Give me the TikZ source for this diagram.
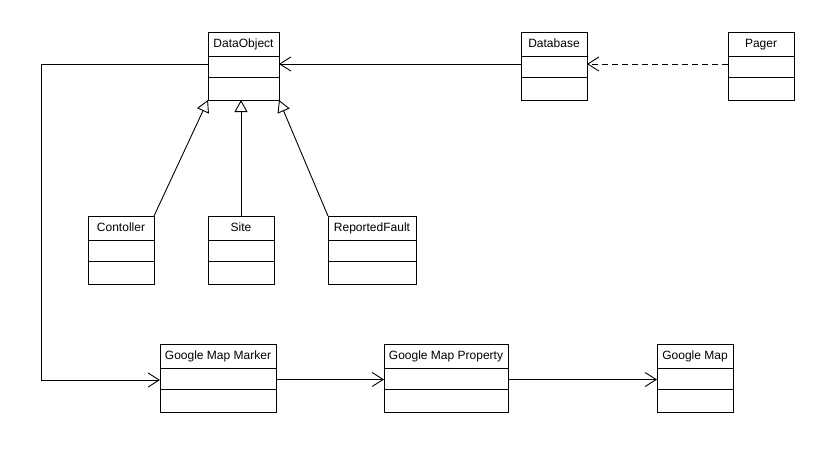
\documentclass[tikz,border=0pt]{standalone}
\usepackage{fontspec}
\setmainfont{Liberation Sans}
\usetikzlibrary{positioning,arrows.meta,shadows}

% one class box: name, left, top, width, title
\newcommand{\umlclass}[5]{%
    \node[classtitle, minimum width=#4] (#1) at (#2,#3) {#5};
    \node[classattr, minimum width=#4, below=0pt of #1] (#1-attr) {};
    \node[classop, minimum width=#4, below=0pt of #1-attr] (#1-op) {};
}

\begin{document}
\begin{tikzpicture}[x=1pt, y=-1pt,
                    line width=0.9pt,
                    font=\fontsize{12}{14}\selectfont,
                    ]
    \tikzstyle{classbox}=[draw, fill=white, outer sep=0pt, inner sep=0pt,
        drop shadow={shadow xshift=1pt, shadow yshift=-1pt, fill=gray!55, opacity=1}]
    \tikzstyle{classtitle}=[classbox, anchor=north west, minimum height=24pt, text height=9pt, text depth=3pt]
    \tikzstyle{classattr}=[classbox, minimum height=21pt]
    \tikzstyle{classop}=[classbox, minimum height=23pt]
    \tikzstyle{assoc}=[-{Straight Barb[length=11pt,width=14pt]}]
    \tikzstyle{depend}=[assoc, dash pattern=on 6pt off 4pt]
    \tikzstyle{inherit}=[-{Triangle[open,length=12pt,width=13pt,fill=white]}]

    \useasboundingbox (0,0) rectangle (834,467);

    \umlclass{dataobj}{208}{32}{71pt}{DataObject}
    \umlclass{db}{521}{32}{66pt}{Database}
    \umlclass{pager}{728}{32}{66pt}{Pager}
    \umlclass{ctrl}{88}{216}{66pt}{Contoller}
    \umlclass{site}{208}{216}{66pt}{Site}
    \umlclass{fault}{328}{216}{88pt}{ReportedFault}
    \umlclass{gmm}{160}{344}{116pt}{Google Map Marker}
    \umlclass{gmp}{384}{344}{124pt}{Google Map Property}
    \umlclass{gm}{657}{344}{76pt}{Google Map}

    \draw[depend] ([yshift=2.5pt]pager-attr.west) -- ([yshift=2.5pt]db-attr.east);
    \draw[assoc] ([yshift=2.5pt]db-attr.west) -- ([yshift=2.5pt]dataobj-attr.east);
    \draw[assoc] ([yshift=2.5pt]dataobj-attr.west) -- ++(-167,0) |- ([yshift=-1.5pt]gmm-attr.west);
    \draw[assoc] ([yshift=-1pt]gmm-attr.east) -- ([yshift=-1pt]gmp-attr.west);
    \draw[assoc] ([yshift=-1pt]gmp-attr.east) -- ([yshift=-1pt]gm-attr.west);

    \draw[inherit] (ctrl.north east) -- (dataobj-op.south west);
    \draw[inherit] (site.north) -- (site.north |- dataobj-op.south);
    \draw[inherit] (fault.north west) -- (dataobj-op.south east);
\end{tikzpicture}
\end{document}
